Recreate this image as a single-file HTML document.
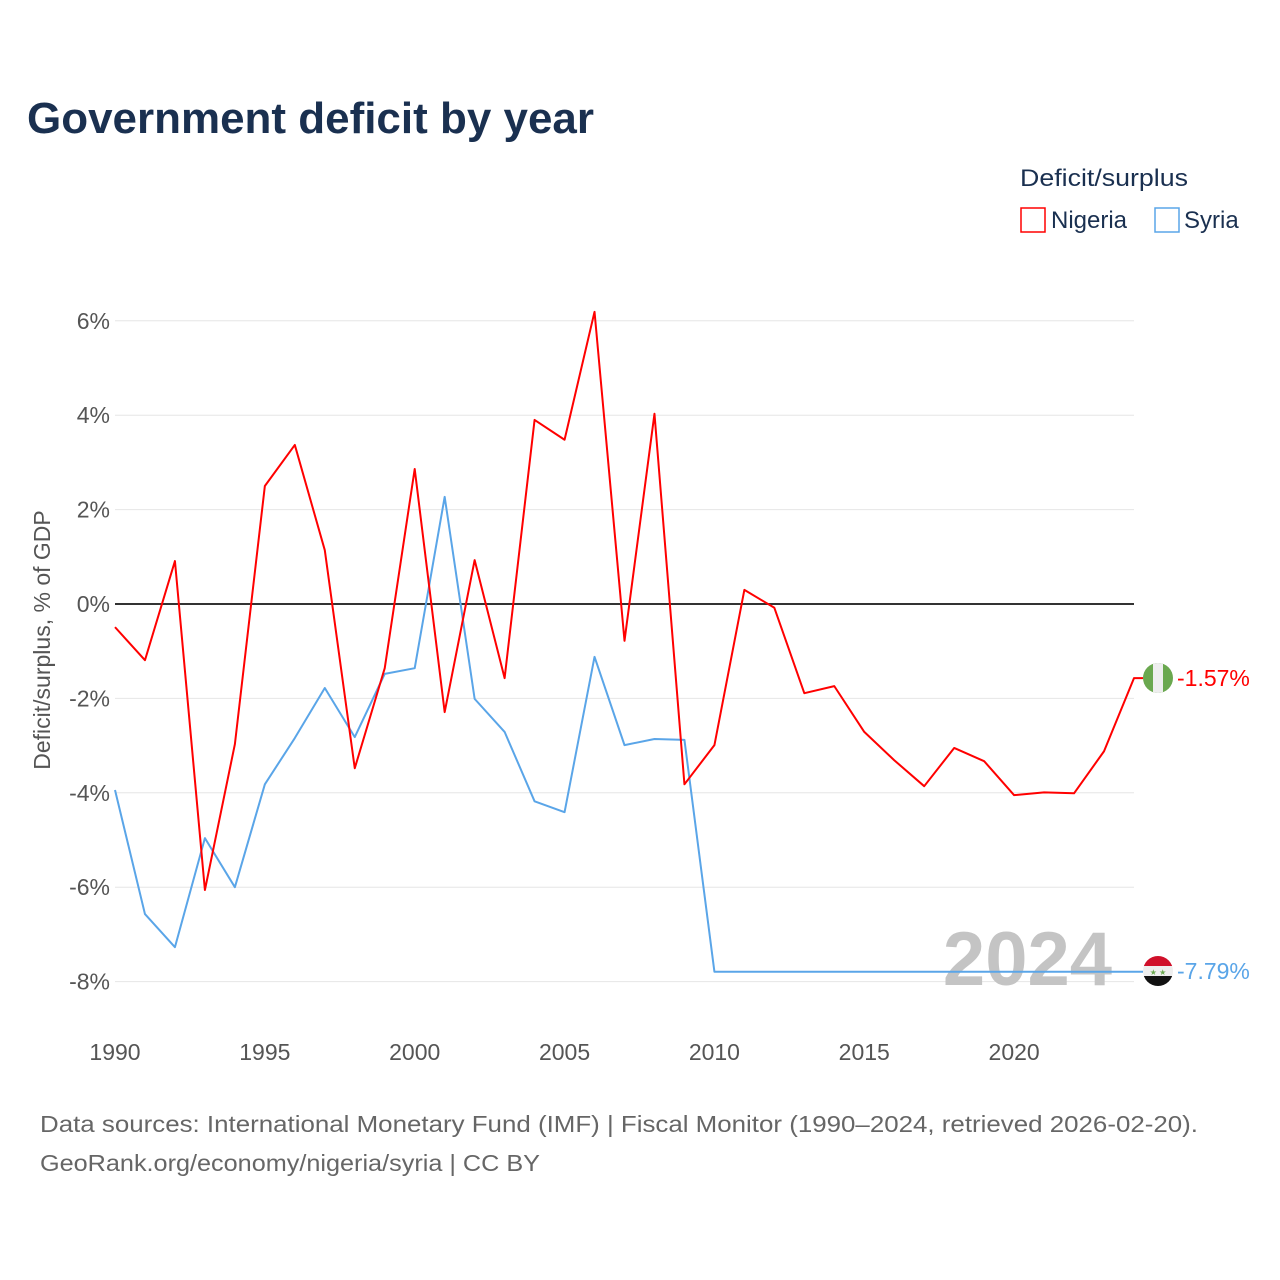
<!DOCTYPE html>
<html><head><meta charset="utf-8"><style>
html,body{margin:0;padding:0;background:#fff;}
svg{display:block;font-family:"Liberation Sans",sans-serif;}
</style></head><body>
<svg width="1280" height="1280" viewBox="0 0 1280 1280">
<text x="27" y="133" font-size="44" font-weight="bold" fill="#1a3050" textLength="567" lengthAdjust="spacingAndGlyphs">Government deficit by year</text>
<text x="1020" y="186" font-size="24" fill="#1a3050" textLength="168" lengthAdjust="spacingAndGlyphs">Deficit/surplus</text>
<g>
<rect x="1021" y="208" width="24" height="24" fill="none" stroke="#ff0000" stroke-width="1.5"/>
<text x="1051" y="228" font-size="24" fill="#1a3050">Nigeria</text></g>
<g>
<rect x="1155" y="208" width="24" height="24" fill="none" stroke="#5aa5e8" stroke-width="1.5"/>
<text x="1184" y="228" font-size="24" fill="#1a3050">Syria</text></g>
<g id="grid"></g>
<g id="yticks"></g>
<g id="xticks"></g>
<text transform="translate(50,640) rotate(-90)" text-anchor="middle" font-size="23" fill="#555">Deficit/surplus, % of GDP</text>
<text x="1112" y="985" text-anchor="end" font-size="76" font-weight="bold" fill="#c4c4c4">2024</text>
<line x1="115" x2="1134" y1="604" y2="604" stroke="#333" stroke-width="2"/>
<g id="series"></g>
<g>
<clipPath id="c1"><circle cx="1158" cy="678" r="15"/></clipPath>
<g clip-path="url(#c1)"><rect x="1143" y="663" width="30" height="30" fill="#6aa84f"/><rect x="1153" y="663" width="10" height="30" fill="#eee"/></g></g>
<g>
<clipPath id="c2"><circle cx="1158" cy="971" r="15"/></clipPath>
<g clip-path="url(#c2)"><rect x="1143" y="956" width="30" height="10" fill="#d0102a"/><rect x="1143" y="966" width="30" height="10" fill="#eee"/><rect x="1143" y="976" width="30" height="10" fill="#111"/>
<text x="1158" y="975" text-anchor="middle" font-size="8" fill="#6aa84f">★ ★</text></g></g>
<text id="lblN" x="1177" y="686" font-size="23" fill="#ff0000"></text>
<text id="lblS" x="1177" y="979" font-size="23" fill="#5aa5e8"></text>
<text x="40" y="1132" font-size="23" fill="#666" textLength="1158" lengthAdjust="spacingAndGlyphs">Data sources: International Monetary Fund (IMF) | Fiscal Monitor (1990–2024, retrieved 2026-02-20).</text>
<text x="40" y="1171" font-size="23" fill="#666" textLength="500" lengthAdjust="spacingAndGlyphs">GeoRank.org/economy/nigeria/syria | CC BY</text>
</svg>
<script>
const years=[];for(let y=1990;y<=2024;y++)years.push(y);
const nigeria=[-0.49,-1.19,0.91,-6.06,-2.97,2.50,3.37,1.14,-3.48,-1.36,2.86,-2.29,0.93,-1.57,3.90,3.48,6.19,-0.78,4.03,-3.82,-2.99,0.30,-0.08,-1.89,-1.74,-2.71,-3.31,-3.86,-3.05,-3.33,-4.05,-3.99,-4.01,-3.12,-1.57];
const syria=[-3.94,-6.57,-7.27,-4.96,-6.00,-3.82,-2.84,-1.78,-2.82,-1.48,-1.36,2.27,-2.01,-2.71,-4.18,-4.41,-1.12,-2.99,-2.86,-2.88,-7.79,-7.79,-7.79,-7.79,-7.79,-7.79,-7.79,-7.79,-7.79,-7.79,-7.79,-7.79,-7.79,-7.79,-7.79];
const yTicks=[6,4,2,0,-2,-4,-6,-8];
const xTicks=[1990,1995,2000,2005,2010,2015,2020];
const X=v=>115+(v-1990)*(1134-115)/34;
const Y=v=>604-v*47.2;
const NS="http://www.w3.org/2000/svg";
function mk(t,a,p){const e=document.createElementNS(NS,t);for(const k in a)e.setAttribute(k,a[k]);p.appendChild(e);return e;}
const grid=document.getElementById('grid'),yt=document.getElementById('yticks'),xt=document.getElementById('xticks');
yTicks.forEach(v=>{
 const l=mk('line',{x1:115,x2:1134,y1:Y(v),y2:Y(v),stroke:'#e6e6e6','stroke-width':1},grid);
 
 
 const t=mk('text',{x:110,y:Y(v)+8,'text-anchor':'end','font-size':23,fill:'#555'},yt);
 t.textContent=v+'%';
 
 
});
xTicks.forEach(v=>{
 const t=mk('text',{x:X(v),y:1060,'text-anchor':'middle','font-size':23,fill:'#555'},xt);
 t.textContent=v;
 
 
});
const s=document.getElementById('series');
function line(vals,col,name,ext){
 let pts=vals.map((v,i)=>X(years[i])+','+Y(v));
 if(ext)pts.push(ext+','+Y(vals[vals.length-1]));
 const p=mk('polyline',{points:pts.join(' '),fill:'none',stroke:col,'stroke-width':2,'stroke-linejoin':'round'},s);
 
 
}
line(syria,'#5aa5e8','syria-line',1143);
line(nigeria,'#ff0000','nigeria-line',1143);
document.getElementById('lblN').textContent=nigeria[nigeria.length-1].toFixed(2)+'%';
document.getElementById('lblS').textContent=syria[syria.length-1].toFixed(2)+'%';
</script>
</body></html>
